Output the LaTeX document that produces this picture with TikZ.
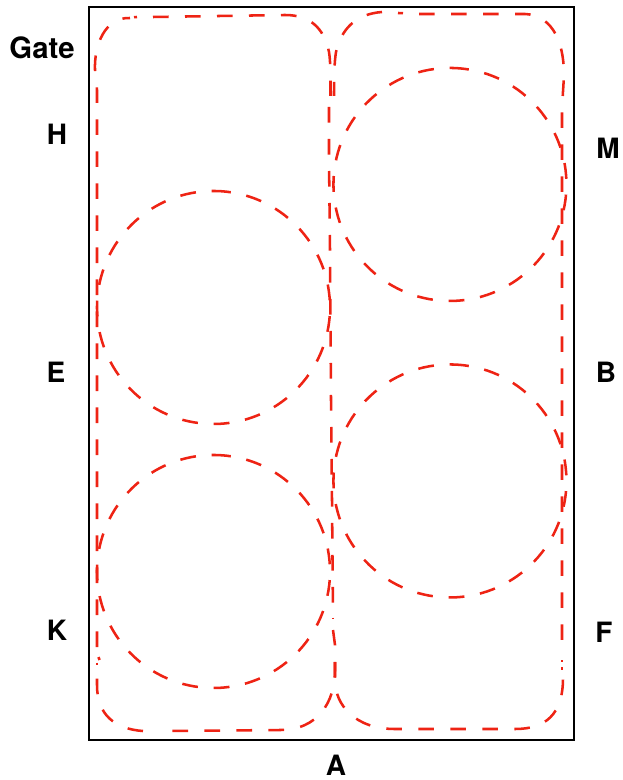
\documentclass[tikz,border=0pt]{standalone}
\usepackage{fontspec}
\setmainfont{TeX Gyre Heros}
\definecolor{rd}{RGB}{238,35,20}
\tikzset{
  px/.style={x=0.75pt,y=-0.75pt},
  lab/.style={font=\bfseries\fontsize{21}{24}\selectfont,text=black,inner sep=0pt},
  dsh/.style={draw=rd,line width=1.9pt,dash pattern=on 11.7pt off 12.3pt},
  dsc/.style={draw=rd,line width=1.9pt,dash pattern=on 11.9pt off 11.86pt},
  dotm/.style={draw=rd,line width=1.9pt},
}
\begin{document}
\begin{tikzpicture}[px]
\useasboundingbox (0,0) rectangle (622,780);
\draw[line width=1.9pt] (89,7) rectangle (574,740);
\node[lab,font=\bfseries\fontsize{22}{24}\selectfont] (gate) at (42,48) {Gate};
\node[lab] (h) at (57,134) {H};
\node[lab] (e) at (56,372) {E};
\node[lab] (k) at (57,630) {K};
\node[lab] (m) at (608,148) {M};
\node[lab] (b) at (606,372) {B};
\node[lab] (f) at (604,632) {F};
\node[lab] (a) at (336,765) {A};
% circles
\draw[dsc] (215,191) arc[start angle=270.74,end angle=630.74,radius=116.5];
\draw[dsc] (215,455) arc[start angle=270.74,end angle=630.74,radius=116.5];
\draw[dsc] (453,68) arc[start angle=271.5,end angle=631.5,radius=116.5];
\draw[dsc] (453,364.5) arc[start angle=271.5,end angle=631.5,radius=116.5];
% left room, top
\draw[dsh] (153,17) -- (285,15) .. controls (310,15) and (324,28) .. (329,52) .. controls (330.5,62) and (330.5,72) .. (330.5,96);
\draw[dsh] (97,647) -- (97,90) -- (95,70) .. controls (94,45) and (105,17) .. (130,18);
\draw[dotm] (134,17.2) -- (137,17);
% right room, top
\draw[dsh] (382,12) .. controls (355,14) and (341,30) .. (336,52) .. controls (334.5,62) and (334,72) .. (334,96);
\draw[dotm] (398,13) -- (403,13.2);
\draw[dsh] (419,14) -- (525,14) .. controls (548,15) and (564,35) .. (564,76) -- (562,107) -- (562,651);
\draw[dotm] (562,660) -- (562,662);
\draw[dotm] (562,667) -- (562,669.5);
% shared wall
\draw[dsh] (329,107) -- (329,160) -- (330,250) -- (331,400) -- (332,500) -- (333,618);
\draw[dotm] (333,617.6) -- (333,619);
% bottoms
\draw[dsh] (333,630) -- (335,645) -- (335,670) .. controls (335,702) and (318,730) .. (280,730) -- (166,731);
\draw[dsh] (143,731) .. controls (115,729) and (97,715) .. (97,685) -- (97,677);
\draw[dotm] (97,662.5) -- (97,665);
\draw[dotm] (98.5,657) -- (99.5,660);
\draw[dsh] (335,662) -- (335,680) .. controls (335,705) and (355,729) .. (395,729) -- (515,729) .. controls (545,729) and (563,715) .. (563,678);
\end{tikzpicture}
\end{document}
